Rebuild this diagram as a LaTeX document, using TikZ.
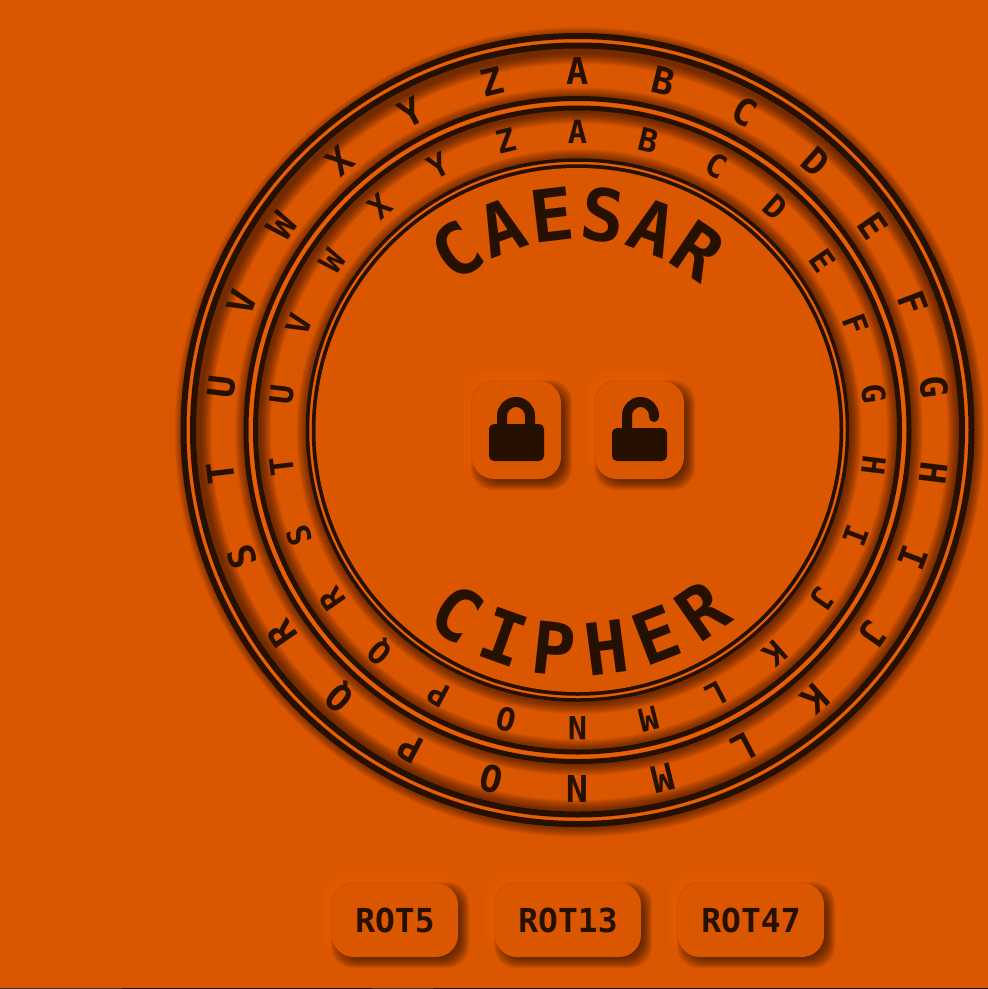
\documentclass[tikz,border=0pt]{standalone}
\usepackage{fontspec}
\setmonofont{DejaVu Sans Mono}
\usepackage{xcolor}
\definecolor{plate}{HTML}{DA5600}
\definecolor{ink}{HTML}{261000}
\definecolor{sink}{HTML}{2A1000}
\definecolor{lit}{HTML}{FF7418}
\definecolor{gapline}{HTML}{E85E04}
\newcommand{\softbox}[6]{%
  \foreach \g in {-6,-5,...,6}
    \fill[lit, opacity=.035, rounded corners=22pt]
      ({#2-#4/2-5-\g},{#3-#5/2-5-\g}) rectangle ({#2+#4/2-5+\g},{#3+#5/2-5+\g});
  \foreach \g in {-6,-5,...,6}
    \fill[sink, opacity=.085, rounded corners=22pt]
      ({#2-#4/2+5-\g},{#3-#5/2+5-\g}) rectangle ({#2+#4/2+5+\g},{#3+#5/2+5+\g});
  \node[softface, minimum width=#4, minimum height=#5] (#1) at (#2,#3) {#6};
}
\newcommand{\ringshade}[3]{%
  \foreach \g in {0,1.5,...,21}
    \draw[sink, opacity=.05, line width={#3+\g}] ({577.5+#2},{430+#2}) circle[radius=#1];
}

\begin{document}
\begin{tikzpicture}[
  x=1pt, y=-1pt,
  softface/.style={fill=plate, rounded corners=22pt, inner sep=0pt,
                   text=ink, font=\fontsize{33}{33}\selectfont\ttfamily\bfseries},
  wheelout/.style={inner sep=0pt, text=ink, text height=27pt, text depth=0pt,
                   font=\fontsize{37}{37}\selectfont\ttfamily\bfseries},
  wheelin/.style={wheelout, text height=23pt,
                  font=\fontsize{32}{32}\selectfont\ttfamily\bfseries},
  title/.style={wheelout, text height=52pt,
                font=\fontsize{72}{72}\selectfont\ttfamily\bfseries},
  band/.style={draw=ink}]

\useasboundingbox (0,0) rectangle (988,989);
\fill[plate] (0,0) rectangle (988,989);
\fill[ink!70!gray] (0,988) rectangle (122,989);
\fill[ink] (122,988) rectangle (372,989);
\fill[ink!70!gray] (372,988) rectangle (433,989);
\fill[ink] (433,988) rectangle (988,989);

\ringshade{386.5}{2}{16}
\ringshade{326}{1.5}{15}
\ringshade{267}{1.5}{10}
\fill[plate] (577.5,430) circle[radius=262];

\draw[gapline, line width=5pt] (577.5,430) circle[radius=389.25];
\draw[gapline, line width=5.5pt] (577.5,430) circle[radius=326.75];
\draw[gapline, line width=3.5pt] (577.5,430) circle[radius=267];
\draw[band, line width=6pt] (577.5,430) circle[radius=394];
\draw[band, line width=6pt] (577.5,430) circle[radius=384.5];
\draw[band, line width=5pt] (577.5,430) circle[radius=331.5];
\draw[band, line width=5pt] (577.5,430) circle[radius=322];
\draw[band, line width=3.5pt] (577.5,430) circle[radius=270];
\draw[band, line width=3.5pt] (577.5,430) circle[radius=264];

\foreach \ch [count=\i from 0] in {A,B,C,D,E,F,G,H,I,J,K,L,M,N,O,P,Q,R,S,T,U,V,W,X,Y,Z} {
  \pgfmathsetmacro{\a}{\i*360/26}
  \node[wheelout, rotate=-\a] (out\i) at ({577.5+359*sin(\a)},{430-359*cos(\a)}) {\ch};
  \node[wheelin, rotate=-\a] (in\i) at ({577.5+298*sin(\a)},{430-298*cos(\a)}) {\ch};
}

\foreach \ch [count=\i from 0] in {C,A,E,S,A,R} {
  \pgfmathsetmacro{\a}{-34+13.6*\i}
  \node[title, rotate=-\a] (top\i) at ({577.5+216*sin(\a)},{430-216*cos(\a)}) {\ch};
}
\foreach \ch [count=\i from 0] in {C,I,P,H,E,R} {
  \pgfmathsetmacro{\a}{-33.3+13.6*\i}
  \node[title, rotate=\a] (low\i) at ({577.5+220*sin(\a)},{430+220*cos(\a)}) {\ch};
}

\softbox{lockbox}{516.5}{430}{89}{98}{}
\softbox{openbox}{639.5}{430}{89}{98}{}
\fill[ink, rounded corners=5pt] (489,424) rectangle (544,461);
\draw[ink, line width=10pt] (502,426) -- (502,416) arc[start angle=180, end angle=360, radius=14] -- (530,426);
\fill[ink, rounded corners=5pt] (612,428) rectangle (667,461);
\draw[ink, line width=10pt, line cap=round] (627,434) -- (627,415.5) arc[start angle=180, end angle=360, radius=13.5] -- (654,417);

\softbox{rotfive}{395}{920}{126}{74}{ROT5}
\softbox{rotthirteen}{568}{920}{146}{74}{ROT13}
\softbox{rotfortyseven}{751}{920}{146}{74}{ROT47}

\end{tikzpicture}
\end{document}
